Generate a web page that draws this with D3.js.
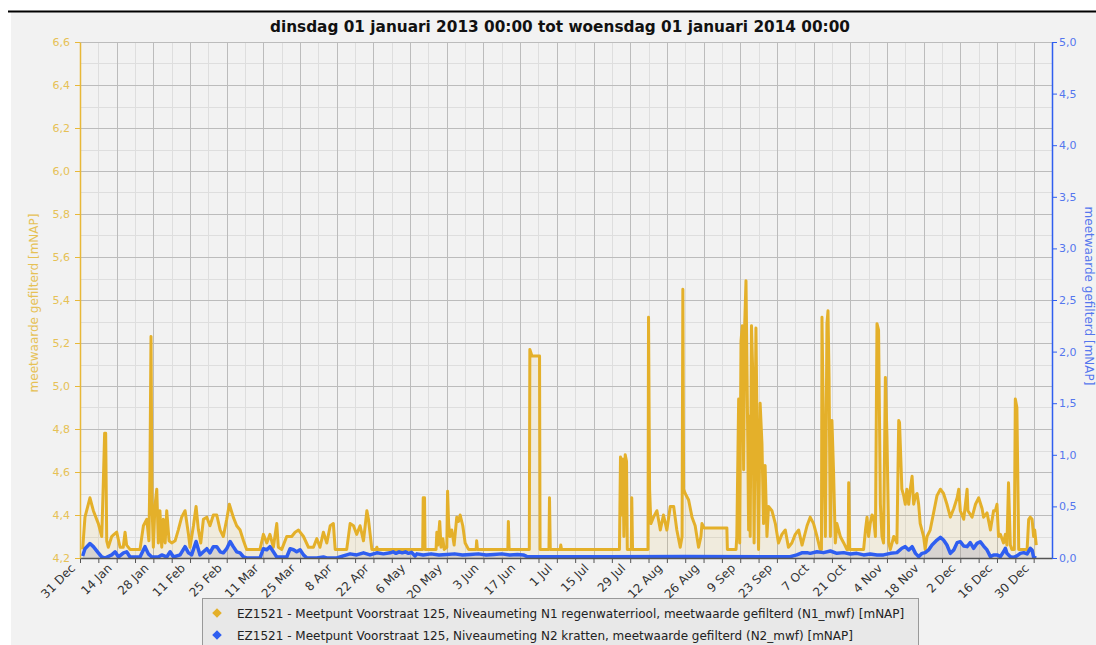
<!DOCTYPE html>
<html>
<head>
<meta charset="utf-8">
<style>
body { margin: 0; background: #fff; }
svg { display: block; font-family: "DejaVu Sans", sans-serif; }
</style>
</head>
<body>
<div id="chart"></div>
<script src="https://cdn.jsdelivr.net/npm/d3@7"></script>
<script>
var chartTitle = "dinsdag 01 januari 2013 00:00 tot woensdag 01 januari 2014 00:00";
var axisTitle = "meetwaarde gefilterd [mNAP]";
var seriesNames = [
  "EZ1521 - Meetpunt Voorstraat 125, Niveaumeting N1 regenwaterriool, meetwaarde gefilterd (N1_mwf) [mNAP]",
  "EZ1521 - Meetpunt Voorstraat 125, Niveaumeting N2 kratten, meetwaarde gefilterd (N2_mwf) [mNAP]"
];
var xTickLabels = ["31 Dec","14 Jan","28 Jan","11 Feb","25 Feb","11 Mar","25 Mar","8 Apr","22 Apr",
  "6 May","20 May","3 Jun","17 Jun","1 Jul","15 Jul","29 Jul","12 Aug","26 Aug","9 Sep","23 Sep",
  "7 Oct","21 Oct","4 Nov","18 Nov","2 Dec","16 Dec","30 Dec"];
var leftTicks = [4.2, 4.4, 4.6, 4.8, 5.0, 5.2, 5.4, 5.6, 5.8, 6.0, 6.2, 6.4, 6.6];
var rightTicks = [0, 0.5, 1.0, 1.5, 2.0, 2.5, 3.0, 3.5, 4.0, 4.5, 5.0];

// [day of 2013 (0 = 1 jan 00:00), mNAP]  N1 regenwaterriool (left axis)
var n1 = [
  [0,4.24],[0.9,4.39],[2.8,4.48],[4.1,4.42],[6.0,4.36],[7.3,4.30],[7.9,4.55],[8.4,4.78],[8.8,4.78],
  [9.2,4.28],[9.8,4.25],[11.1,4.30],[12.0,4.31],[13.0,4.32],[14.3,4.25],[15.5,4.25],[16.2,4.32],
  [16.8,4.26],[18.1,4.24],[21.9,4.24],[23.2,4.35],[24.5,4.38],[25.3,4.28],[25.7,4.61],[26.1,5.23],
  [26.5,4.44],[27.0,4.25],[27.6,4.44],[28.3,4.52],[28.9,4.27],[29.5,4.42],[30.2,4.25],[30.8,4.38],
  [31.5,4.27],[32.1,4.42],[33.0,4.28],[34.0,4.27],[35.3,4.28],[36.5,4.33],[37.8,4.39],[39.1,4.42],
  [40.4,4.31],[41.0,4.25],[42.3,4.35],[43.3,4.44],[44.2,4.33],[45.1,4.27],[46.1,4.38],[47.4,4.39],
  [48.6,4.35],[49.9,4.40],[51.2,4.40],[52.5,4.33],[53.7,4.30],[55.0,4.38],[56.0,4.45],[57.5,4.39],
  [58.8,4.35],[60.1,4.33],[61.4,4.28],[62.6,4.24],[67.7,4.24],[69.0,4.31],[70.3,4.27],[71.5,4.31],
  [72.8,4.25],[74.1,4.36],[74.7,4.25],[76.0,4.24],[77.9,4.30],[79.8,4.30],[81.1,4.32],[82.4,4.33],
  [84.3,4.30],[86.2,4.25],[88.1,4.25],[89.4,4.29],[90.6,4.25],[91.9,4.32],[93.2,4.27],[94.5,4.35],
  [95.7,4.36],[96.4,4.24],[100.8,4.24],[102.1,4.36],[103.4,4.35],[104.6,4.31],[105.9,4.35],
  [107.2,4.28],[108.5,4.42],[109.1,4.38],[110.4,4.24],[112.0,4.24],[112.3,4.25],[112.6,4.24],
  [129.8,4.24],[130.0,4.48],[130.5,4.48],[130.7,4.24],[134.9,4.24],[135.2,4.32],[135.6,4.26],
  [136.3,4.37],[136.8,4.25],[137.5,4.29],[138.0,4.24],[139.0,4.25],[139.3,4.51],[139.7,4.36],
  [140.2,4.30],[140.9,4.33],[141.8,4.26],[142.8,4.39],[143.5,4.37],[144.1,4.40],[145.1,4.35],
  [146.0,4.27],[147.3,4.24],[150.2,4.24],[150.4,4.28],[150.7,4.24],[162.3,4.24],[162.5,4.37],
  [162.8,4.24],[170.5,4.24],[170.7,5.17],[171.5,5.14],[174.4,5.14],[174.6,4.24],[178.0,4.24],
  [178.2,4.48],[178.5,4.24],[182.3,4.24],[182.5,4.26],[182.8,4.24],[204.9,4.24],[205.3,4.67],
  [205.8,4.40],[206.2,4.66],[206.6,4.30],[207.1,4.68],[207.6,4.65],[207.9,4.24],[209.4,4.24],
  [209.6,4.48],[209.9,4.24],[215.8,4.24],[216.0,5.32],[216.4,4.52],[216.9,4.36],[217.9,4.39],
  [219.2,4.42],[220.5,4.33],[221.7,4.40],[223.0,4.33],[224.3,4.44],[225.6,4.44],[226.8,4.33],
  [228.1,4.25],[228.8,4.30],[229.1,5.45],[229.4,4.52],[230.0,4.50],[231.3,4.47],[232.6,4.39],
  [233.8,4.35],[235.1,4.25],[236.0,4.30],[236.4,4.36],[237.2,4.34],[245.9,4.34],[246.1,4.24],
  [249.4,4.24],[249.7,4.30],[250.4,4.94],[250.8,4.27],[251.3,5.21],[251.8,5.28],[252.3,4.61],
  [252.7,5.28],[253.2,5.49],[253.4,5.28],[253.9,4.73],[254.2,4.33],[254.6,4.86],[254.8,4.30],
  [255.3,5.28],[255.8,5.05],[256.3,4.27],[257.0,5.27],[257.6,4.61],[258.0,4.24],[258.6,4.92],
  [259.3,4.73],[259.9,4.36],[260.5,4.63],[261.2,4.30],[261.8,4.44],[263.1,4.42],[264.4,4.36],
  [265.6,4.27],[266.9,4.31],[268.2,4.33],[269.4,4.25],[270.7,4.27],[272.0,4.31],[273.3,4.33],
  [274.6,4.26],[276.5,4.35],[277.7,4.39],[279.0,4.36],[280.3,4.30],[281.5,4.24],[282.0,4.24],
  [282.2,5.32],[282.5,5.04],[283.0,4.61],[283.5,4.30],[284.1,5.29],[284.5,5.35],[284.9,5.04],
  [285.4,4.30],[286.0,4.84],[286.6,4.61],[287.3,4.27],[287.9,4.36],[289.2,4.30],[290.5,4.27],
  [291.7,4.24],[292.2,4.24],[292.4,4.55],[292.8,4.24],[298.1,4.24],[298.8,4.33],[299.4,4.39],
  [300.0,4.30],[300.6,4.36],[301.3,4.40],[301.9,4.39],[302.6,4.30],[303.2,5.29],[303.8,5.26],
  [304.5,4.45],[305.1,4.30],[305.7,4.27],[306.4,5.04],[307.0,4.77],[307.7,4.27],[308.3,4.24],
  [309.6,4.30],[310.8,4.27],[311.5,4.84],[311.8,4.83],[312.7,4.52],[313.4,4.49],[314.0,4.45],
  [314.6,4.52],[315.3,4.45],[315.9,4.52],[316.6,4.58],[317.2,4.45],[317.9,4.49],[318.5,4.50],
  [319.1,4.45],[319.7,4.36],[321.0,4.30],[321.6,4.24],[322.3,4.30],[323.5,4.33],[324.8,4.41],
  [326.1,4.49],[327.4,4.52],[328.6,4.50],[329.9,4.45],[331.2,4.39],[332.5,4.43],[333.8,4.48],
  [334.4,4.52],[335.0,4.42],[336.3,4.38],[337.6,4.52],[337.9,4.42],[339.5,4.39],[340.8,4.45],
  [342.0,4.48],[343.3,4.43],[343.9,4.39],[345.2,4.41],[346.5,4.33],[347.7,4.42],[348.4,4.42],
  [349.0,4.45],[349.6,4.30],[350.3,4.31],[351.5,4.27],[352.2,4.31],[352.8,4.26],[353.4,4.55],
  [354.1,4.26],[354.7,4.24],[355.6,4.24],[356.0,4.94],[356.6,4.90],[357.3,4.24],[360.5,4.24],
  [361.1,4.38],[361.7,4.39],[362.4,4.38],[363.0,4.30],[363.4,4.33],[364.0,4.26]
];

// [day of 2013, mNAP]  N2 kratten (right axis)
var n2 = [
  [0,0.02],[0.9,0.09],[2.8,0.14],[4.1,0.11],[6.0,0.05],[7.3,0.01],[8.5,0],[11.1,0.03],[12.4,0.06],
  [13.7,0.01],[15.6,0.05],[16.8,0.06],[18.1,0.01],[21.9,0.01],[23.8,0.11],[25.1,0.04],[26.4,0.01],
  [28.9,0.01],[30.2,0.03],[32.1,0.01],[33.4,0.06],[34.7,0.01],[37.2,0.03],[39.1,0.11],[40.4,0.05],
  [41.6,0.03],[43.3,0.16],[44.8,0.03],[46.1,0.06],[47.4,0.09],[48.6,0.05],[49.9,0.11],[51.2,0.11],
  [52.5,0.06],[53.7,0.05],[55.0,0.09],[56.3,0.16],[57.5,0.11],[58.8,0.06],[60.1,0.05],[61.4,0.01],
  [62.6,0],[67.7,0],[69.0,0.09],[70.3,0.08],[71.5,0.11],[72.8,0.06],[74.1,0.01],[77.9,0.01],
  [79.2,0.09],[80.5,0.08],[81.7,0.06],[83.0,0.08],[84.3,0.03],[85.6,0],[89.4,0],[91.9,0.01],
  [93.2,0],[97.0,0],[99.5,0.02],[102.1,0.04],[104.6,0.03],[107.2,0.05],[109.7,0.03],[112.3,0.05],
  [114.8,0.04],[117.4,0.05],[118.5,0.06],[119.6,0.045],[120.8,0.06],[122.0,0.05],[123.2,0.06],
  [124.4,0.045],[125.5,0.055],[126.9,0.02],[127.6,0.04],[130,0.03],[133,0.04],[136,0.03],
  [139,0.035],[142,0.04],[145,0.03],[148,0.035],[151,0.04],[154,0.03],[157,0.035],[160,0.04],
  [163,0.03],[166,0.035],[168.2,0.03],[169.5,0.015],[200,0.013],[230,0.015],[260,0.013],
  [270.1,0.013],[272.6,0.03],[274.5,0.05],[276.5,0.052],[277.7,0.045],[280.3,0.061],[282.8,0.052],
  [285.4,0.068],[287.9,0.045],[290.5,0.052],[293.0,0.039],[295.5,0.045],[298.1,0.03],[300.6,0.039],
  [303.2,0.03],[305.7,0.03],[308.3,0.045],[310.8,0.052],[312.7,0.094],[314.0,0.11],[315.3,0.078],
  [316.6,0.11],[317.9,0.045],[319.1,0.013],[320.4,0.045],[321.6,0.052],[322.9,0.078],[324.2,0.126],
  [326.1,0.174],[327.4,0.20],[328.6,0.174],[329.9,0.126],[331.2,0.045],[332.5,0.078],[333.8,0.149],
  [335.0,0.158],[336.3,0.116],[337.6,0.11],[338.8,0.149],[340.1,0.094],[341.4,0.142],[342.6,0.158],
  [343.9,0.116],[345.2,0.078],[346.5,0.013],[347.7,0.03],[349.0,0.03],[350.3,0.013],[351.5,0.061],
  [352.2,0.094],[352.8,0.045],[354.1,0.013],[355.4,0.006],[356.6,0.02],[357.9,0.045],[359.2,0.052],
  [360.5,0.039],[361.7,0.094],[362.4,0.078],[363.0,0.006],[364.0,0]
];

var W = 1096, H = 645;
var plot = {left: 80, right: 1052, top: 42, bottom: 558};
var orange = "#e4b02a", orangeAxis = "#e8b838", orangeText = "#e6c155";
var blue = "#2f5ef0", blueText = "#5577ee";

var t0 = Date.UTC(2012, 11, 31), t1 = Date.UTC(2014, 0, 6), jan1 = Date.UTC(2013, 0, 1);
function dayDate(d) { return new Date(jan1 + d * 864e5); }
var comma = function(f) { return function(v) { return d3.format(f)(v).replace(".", ","); }; };

var x = d3.scaleUtc().domain([t0, t1]).range([plot.left, plot.right]);
var yL = d3.scaleLinear().domain([4.2, 6.6]).range([plot.bottom, plot.top]);
var yR = d3.scaleLinear().domain([0, 5]).range([plot.bottom, plot.top]);

var svg = d3.select("#chart").append("svg").attr("width", W).attr("height", H);

svg.append("rect").attr("x", 11).attr("y", 12).attr("width", W - 11).attr("height", H - 12).attr("fill", "#f2f2f2");
svg.append("line").attr("x1", 8).attr("x2", W).attr("y1", 11.5).attr("y2", 11.5).attr("stroke", "#000").attr("stroke-width", 2);

svg.append("text").attr("x", 560).attr("y", 31.5).attr("text-anchor", "middle")
  .attr("font-size", 15.3).attr("font-weight", "bold").attr("fill", "#111").text(chartTitle);

var majorDates = xTickLabels.map(function(l, i) { return d3.utcDay.offset(new Date(t0), 14 * i); });
var minorDates = xTickLabels.slice(0, -1).map(function(l, i) { return d3.utcDay.offset(new Date(t0), 14 * i + 7); });
var minorY = d3.range(43, 66, 2).map(function(v) { return v / 10; });

// grid
var grid = svg.append("g");
grid.selectAll(".vmin").data(minorDates).enter().append("line")
  .attr("x1", function(d) { return Math.round(x(d)) + 0.5; }).attr("x2", function(d) { return Math.round(x(d)) + 0.5; })
  .attr("y1", plot.top).attr("y2", plot.bottom).attr("stroke", "#dedede");
grid.selectAll(".hmin").data(minorY).enter().append("line")
  .attr("y1", function(d) { return Math.round(yL(d)) + 0.5; }).attr("y2", function(d) { return Math.round(yL(d)) + 0.5; })
  .attr("x1", plot.left).attr("x2", plot.right).attr("stroke", "#dedede");
grid.selectAll(".vmaj").data(majorDates.slice(1)).enter().append("line")
  .attr("x1", function(d) { return Math.round(x(d)) + 0.5; }).attr("x2", function(d) { return Math.round(x(d)) + 0.5; })
  .attr("y1", plot.top).attr("y2", plot.bottom).attr("stroke", "#bcbcbc");
grid.selectAll(".hmaj").data(leftTicks).enter().append("line")
  .attr("y1", function(d) { return Math.round(yL(d)) + 0.5; }).attr("y2", function(d) { return Math.round(yL(d)) + 0.5; })
  .attr("x1", plot.left).attr("x2", plot.right).attr("stroke", "#bcbcbc");

svg.append("clipPath").attr("id", "clip").append("rect")
  .attr("x", plot.left).attr("y", plot.top).attr("width", plot.right - plot.left).attr("height", plot.bottom - plot.top);
var g = svg.append("g").attr("clip-path", "url(#clip)");

var areaL = d3.area().x(function(d) { return x(dayDate(d[0])); }).y0(plot.bottom).y1(function(d) { return yL(d[1]); });
var lineL = d3.line().x(function(d) { return x(dayDate(d[0])); }).y(function(d) { return yL(d[1]); });
var areaR = d3.area().x(function(d) { return x(dayDate(d[0])); }).y0(plot.bottom).y1(function(d) { return yR(d[1]); });
var lineR = d3.line().x(function(d) { return x(dayDate(d[0])); }).y(function(d) { return yR(d[1]); });

g.append("path").datum(n1).attr("d", areaL).attr("fill", "rgba(228,176,42,0.10)");
g.append("path").datum(n2).attr("d", areaR).attr("fill", "rgba(150,150,175,0.28)");
g.append("path").datum(n1).attr("d", lineL).attr("fill", "none").attr("stroke", orange)
  .attr("stroke-width", 3).attr("stroke-linejoin", "round");
g.append("path").datum(n2).attr("d", lineR).attr("fill", "none").attr("stroke", blue)
  .attr("stroke-width", 3.5).attr("stroke-linejoin", "round");

// x axis
var xg = svg.append("g").attr("transform", "translate(0," + plot.bottom + ")");
xg.call(d3.axisBottom(x).tickValues(majorDates.concat(minorDates)).tickSize(5).tickSizeOuter(0).tickFormat(""));
xg.select(".domain").attr("stroke", "#555").attr("stroke-width", 1.5);
xg.selectAll(".tick line").attr("stroke", "#555");
svg.append("g").selectAll("text").data(majorDates).enter().append("text")
  .attr("transform", function(d) { return "translate(" + (x(d) - 7) + ",566) rotate(-45)"; })
  .attr("text-anchor", "end").attr("dy", "0.35em").attr("font-size", 12).attr("fill", "#333")
  .text(function(d, i) { return xTickLabels[i]; });

// left axis
var lg = svg.append("g").attr("transform", "translate(" + plot.left + ",0)");
lg.call(d3.axisLeft(yL).tickValues(minorY).tickSize(3).tickFormat(""));
lg.call(d3.axisLeft(yL).tickValues(leftTicks).tickSize(5).tickSizeOuter(0).tickFormat(comma(".1f")));
lg.selectAll(".domain").attr("stroke", orangeAxis).attr("stroke-width", 1.5);
lg.selectAll(".tick line").attr("stroke", orangeAxis);
lg.selectAll(".tick text").attr("fill", orangeText).attr("font-size", 11).attr("font-family", "DejaVu Sans").attr("x", -10);

// right axis
var rg = svg.append("g").attr("transform", "translate(" + plot.right + ",0)");
rg.call(d3.axisRight(yR).tickValues(d3.range(0, 51).map(function(v) { return v / 10; })).tickSize(3).tickFormat(""));
rg.call(d3.axisRight(yR).tickValues(rightTicks).tickSize(5).tickSizeOuter(0).tickFormat(comma(".1f")));
rg.selectAll(".domain").attr("stroke", blue).attr("stroke-width", 1.5);
rg.selectAll(".tick line").attr("stroke", blue);
rg.selectAll(".tick text").attr("fill", blueText).attr("font-size", 11).attr("font-family", "DejaVu Sans").attr("x", 7);

svg.append("text").attr("transform", "translate(37.5,303) rotate(-90)").attr("text-anchor", "middle")
  .attr("font-size", 12).attr("fill", orangeText).text(axisTitle);
svg.append("text").attr("transform", "translate(1085,296) rotate(90)").attr("text-anchor", "middle")
  .attr("font-size", 12).attr("fill", blueText).text(axisTitle);

// legend
var leg = svg.append("g");
leg.append("rect").attr("x", 202.5).attr("y", 598.5).attr("width", 716).attr("height", 60)
  .attr("fill", "#e8e8e8").attr("stroke", "#999");
var items = leg.selectAll(".item").data(seriesNames).enter().append("g")
  .attr("transform", function(d, i) { return "translate(0," + (613 + i * 22) + ")"; });
items.append("path").attr("d", d3.symbol(d3.symbolSquare, 46)).attr("transform", "translate(217,0) rotate(45)")
  .attr("fill", function(d, i) { return i ? blue : orange; });
items.append("text").attr("x", 237).attr("y", 4.5).attr("font-size", 12).attr("fill", "#222").text(function(d) { return d; });
</script>
</body>
</html>
